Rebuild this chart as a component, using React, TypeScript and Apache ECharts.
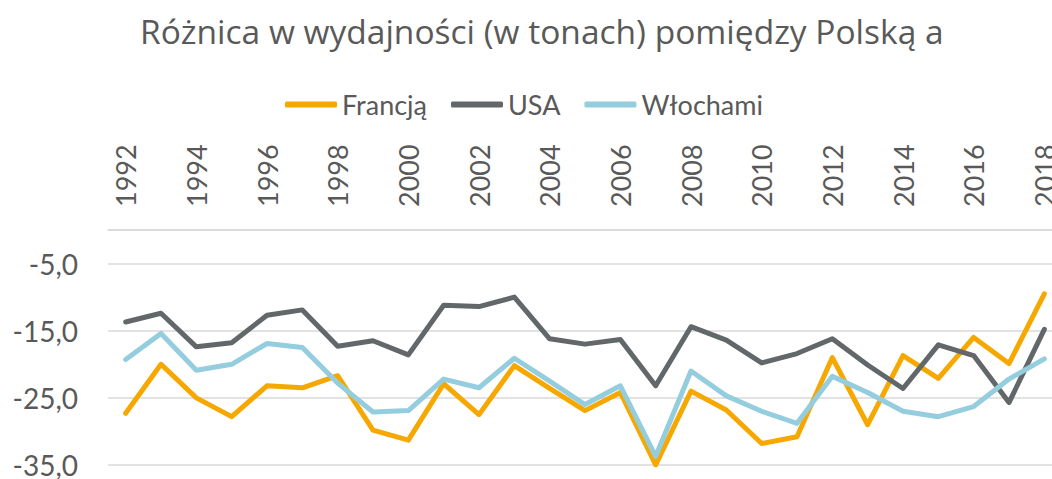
import React, { useEffect, useRef } from "react";
import * as echarts from "echarts";

const years: string[] = [
  "1992", "1993", "1994", "1995", "1996", "1997", "1998", "1999", "2000",
  "2001", "2002", "2003", "2004", "2005", "2006", "2007", "2008", "2009",
  "2010", "2011", "2012", "2013", "2014", "2015", "2016", "2017", "2018",
];

const francja: number[] = [
  -27.3, -20.0, -25.0, -27.8, -23.2, -23.5, -21.7, -29.8, -31.3,
  -22.9, -27.5, -20.2, -23.6, -26.9, -24.2, -35.0, -24.0, -26.8,
  -31.8, -30.8, -19.0, -29.0, -18.7, -22.1, -16.0, -19.9, -9.5,
];

const usa: number[] = [
  -13.7, -12.4, -17.4, -16.8, -12.7, -11.9, -17.3, -16.5, -18.6,
  -11.2, -11.4, -10.0, -16.2, -17.0, -16.3, -23.2, -14.4, -16.4,
  -19.8, -18.4, -16.2, -20.1, -23.6, -17.1, -18.7, -25.7, -14.8,
];

const wlochami: number[] = [
  -19.3, -15.4, -20.9, -20.0, -16.9, -17.5, -22.8, -27.1, -26.9,
  -22.2, -23.5, -19.1, -22.5, -26.0, -23.2, -33.7, -21.0, -24.7,
  -27.0, -28.8, -21.8, -24.2, -27.0, -27.8, -26.3, -22.2, -19.2,
];

const seriesNames: string[] = ["Francją", "USA", "Włochami"];
const seriesColors: string[] = ["#F6A800", "#62676A", "#94CDDD"];

const FONT = "Lato, 'Open Sans', sans-serif";
const TITLE_FONT = "'Open Sans', Lato, sans-serif";
const TEXT = "#595959";

export default function App() {
  const ref = useRef<HTMLDivElement>(null);

  useEffect(() => {
    if (!ref.current) return;
    const chart = echarts.init(ref.current, null, { renderer: "svg" });
    const dataSets = [francja, usa, wlochami];
    chart.setOption({
      animation: false,
      backgroundColor: "#ffffff",
      textStyle: { fontFamily: FONT },
      title: {
        text: "Różnica w wydajności (w tonach) pomiędzy Polską a",
        left: 135,
        top: 9,
        textStyle: {
          fontFamily: TITLE_FONT,
          fontSize: 33.5,
          fontWeight: "normal",
          color: TEXT,
        },
      },
      legend: {
        top: 86,
        left: 280,
        icon: "roundRect",
        itemWidth: 52,
        itemHeight: 6,
        itemGap: 24,
        textStyle: { fontFamily: FONT, fontSize: 27, color: TEXT },
        data: seriesNames,
      },
      grid: {
        left: 108,
        right: 0,
        top: 230,
        bottom: 11,
        containLabel: false,
      },
      xAxis: {
        type: "category",
        position: "top",
        data: years,
        boundaryGap: true,
        axisLine: { show: true, lineStyle: { color: "#D9D9D9", width: 1.5 } },
        axisTick: { show: false },
        axisLabel: {
          interval: 1,
          rotate: 90,
          margin: 23,
          fontFamily: FONT,
          fontSize: 27,
          color: TEXT,
        },
        splitLine: { show: false },
      },
      yAxis: {
        type: "value",
        min: -35,
        max: 0,
        interval: 10,
        axisLine: { show: false },
        axisTick: { show: false },
        axisLabel: {
          showMaxLabel: false,
          margin: 30,
          fontFamily: FONT,
          fontSize: 28,
          color: TEXT,
          formatter: (v: number) => v.toFixed(1).replace(".", ","),
        },
        splitLine: { show: true, lineStyle: { color: "#D9D9D9", width: 1.5 } },
      },
      series: dataSets.map((d, i) => ({
        name: seriesNames[i],
        type: "line",
        data: d,
        symbol: "none",
        color: seriesColors[i],
        lineStyle: { width: 5, color: seriesColors[i], cap: "round", join: "round" },
        itemStyle: { color: seriesColors[i] },
      })),
    });
    return () => chart.dispose();
  }, []);

  return (
    <div
      ref={ref}
      style={{ position: "fixed", left: 0, top: 0, width: 1062, height: 479 }}
    />
  );
}
